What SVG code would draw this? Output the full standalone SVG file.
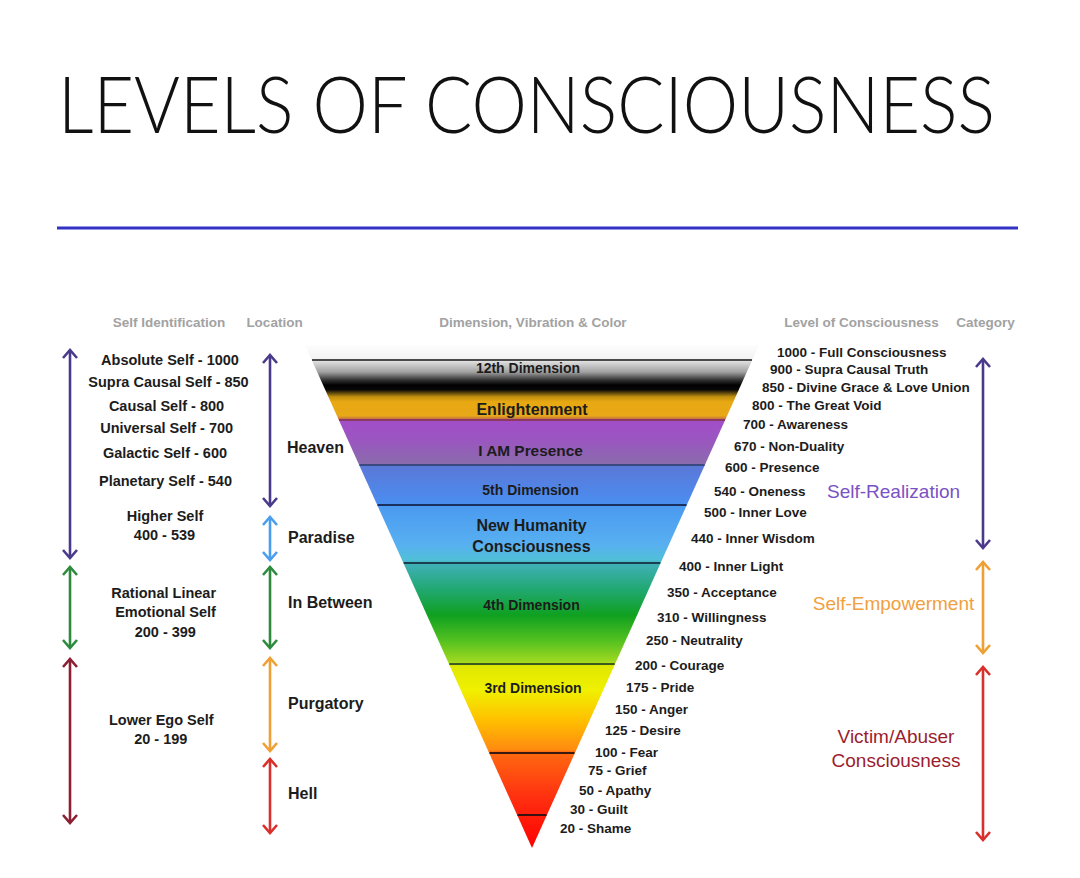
<svg xmlns="http://www.w3.org/2000/svg" width="1080" height="878" viewBox="0 0 1080 878">
<defs>
<style>
.t{font-family:"Liberation Sans",Arial,sans-serif;font-weight:bold;fill:#1c1c1c}
.hd{font-family:"Liberation Sans",Arial,sans-serif;font-weight:bold;fill:#a2a2a2;font-size:13.5px;text-anchor:middle}
.l{font-size:14.5px;text-anchor:middle}
.loc{font-size:16px}
.lv{font-size:13.5px}
.dim{font-size:14px;text-anchor:middle}
.big{font-size:16px;text-anchor:middle}
.cat{font-family:"Liberation Sans",Arial,sans-serif;font-size:19px;text-anchor:middle}
.arr{fill:none;stroke-width:2.6}
.div{stroke-width:2}
</style>
<linearGradient id="tri" gradientUnits="userSpaceOnUse" x1="0" y1="345" x2="0" y2="848">
<stop offset="0" stop-color="#fdfdfd"/>
<stop offset="0.028" stop-color="#f2f2f2"/>
<stop offset="0.034" stop-color="#dadada"/>
<stop offset="0.054" stop-color="#a0a0a0"/>
<stop offset="0.070" stop-color="#303030"/>
<stop offset="0.080" stop-color="#000000"/>
<stop offset="0.089" stop-color="#080808"/>
<stop offset="0.103" stop-color="#c09010"/>
<stop offset="0.113" stop-color="#e8a812"/>
<stop offset="0.141" stop-color="#e8a818"/>
<stop offset="0.148" stop-color="#c06848"/>
<stop offset="0.151" stop-color="#a24ec8"/>
<stop offset="0.189" stop-color="#9a56c0"/>
<stop offset="0.237" stop-color="#8a6cac"/>
<stop offset="0.241" stop-color="#5a78d8"/>
<stop offset="0.316" stop-color="#4a8ef0"/>
<stop offset="0.320" stop-color="#4a9af0"/>
<stop offset="0.398" stop-color="#58b0f0"/>
<stop offset="0.427" stop-color="#50c0d8"/>
<stop offset="0.435" stop-color="#40b0b8"/>
<stop offset="0.487" stop-color="#20a870"/>
<stop offset="0.537" stop-color="#10a020"/>
<stop offset="0.586" stop-color="#50c020"/>
<stop offset="0.630" stop-color="#a0d820"/>
<stop offset="0.638" stop-color="#e0e800"/>
<stop offset="0.686" stop-color="#f0f000"/>
<stop offset="0.746" stop-color="#ffc000"/>
<stop offset="0.805" stop-color="#ff8a10"/>
<stop offset="0.809" stop-color="#ff6a10"/>
<stop offset="0.899" stop-color="#ff3010"/>
<stop offset="1" stop-color="#ff0000"/>
</linearGradient>
<marker id="mPu" markerUnits="userSpaceOnUse" markerWidth="20" markerHeight="20" viewBox="-10 -10 20 20" refX="0" refY="0" orient="auto-start-reverse"><path d="M-8,-7 L0,0 L-8,7" fill="none" stroke="#4b3a8c" stroke-width="2.6"/></marker>
<marker id="mGr" markerUnits="userSpaceOnUse" markerWidth="20" markerHeight="20" viewBox="-10 -10 20 20" refX="0" refY="0" orient="auto-start-reverse"><path d="M-8,-7 L0,0 L-8,7" fill="none" stroke="#2e8b3e" stroke-width="2.6"/></marker>
<marker id="mDr" markerUnits="userSpaceOnUse" markerWidth="20" markerHeight="20" viewBox="-10 -10 20 20" refX="0" refY="0" orient="auto-start-reverse"><path d="M-8,-7 L0,0 L-8,7" fill="none" stroke="#8b2035" stroke-width="2.6"/></marker>
<marker id="mLb" markerUnits="userSpaceOnUse" markerWidth="20" markerHeight="20" viewBox="-10 -10 20 20" refX="0" refY="0" orient="auto-start-reverse"><path d="M-8,-7 L0,0 L-8,7" fill="none" stroke="#4a9ef0" stroke-width="2.6"/></marker>
<marker id="mOr" markerUnits="userSpaceOnUse" markerWidth="20" markerHeight="20" viewBox="-10 -10 20 20" refX="0" refY="0" orient="auto-start-reverse"><path d="M-8,-7 L0,0 L-8,7" fill="none" stroke="#eea034" stroke-width="2.6"/></marker>
<marker id="mRd" markerUnits="userSpaceOnUse" markerWidth="20" markerHeight="20" viewBox="-10 -10 20 20" refX="0" refY="0" orient="auto-start-reverse"><path d="M-8,-7 L0,0 L-8,7" fill="none" stroke="#d8302a" stroke-width="2.6"/></marker>
</defs>
<rect width="1080" height="878" fill="#ffffff"/>

<g id="title">
<text x="58" y="133" font-family="Lato, 'Open Sans', sans-serif" font-weight="300" font-size="78" fill="#111" textLength="937" lengthAdjust="spacingAndGlyphs">LEVELS OF CONSCIOUSNESS</text>
<line x1="57" y1="228" x2="1018" y2="228" stroke="#3232c4" stroke-width="3"/>
</g>

<g id="headers">
<text class="hd" x="169" y="327">Self Identification</text>
<text class="hd" x="274.5" y="327">Location</text>
<text class="hd" x="533" y="327">Dimension, Vibration &amp; Color</text>
<text class="hd" x="861.5" y="327">Level of Consciousness</text>
<text class="hd" x="985.5" y="327">Category</text>
</g>

<g id="triangle">
<polygon points="305,345 759,345 532,848" fill="url(#tri)"/>
<line class="div" x1="312" y1="360" x2="752" y2="360" stroke="#4a4a4a"/>
<line class="div" x1="339" y1="420" x2="725" y2="420" stroke="#8a3a60" stroke-width="1.5"/>
<line class="div" x1="359.4" y1="465" x2="704.6" y2="465" stroke="#3a4a80"/>
<line class="div" x1="377.5" y1="505" x2="686.5" y2="505" stroke="#1a3060"/>
<line class="div" x1="403.7" y1="563" x2="660.3" y2="563" stroke="#1a4050"/>
<line class="div" x1="449.3" y1="664" x2="614.7" y2="664" stroke="#3a5a20"/>
<line class="div" x1="489.5" y1="753" x2="574.5" y2="753" stroke="#3a1a10"/>
<line class="div" x1="517.5" y1="815" x2="546.5" y2="815" stroke="#3a1010"/>
</g>

<g id="dimension-labels">
<text class="t dim" x="528" y="373">12th Dimension</text>
<text class="t big" x="532" y="415">Enlightenment</text>
<text class="t" x="530.5" y="456" font-size="15.4" text-anchor="middle">I AM Presence</text>
<text class="t dim" x="530.5" y="495" font-size="13.8">5th Dimension</text>
<text class="t big" x="531.5" y="531">New Humanity</text>
<text class="t big" x="531.5" y="552">Consciousness</text>
<text class="t dim" x="531.5" y="610">4th Dimension</text>
<text class="t dim" x="533" y="693" font-size="13.8">3rd Dimension</text>
</g>

<g id="self-identification">
<text class="t l" x="170" y="365">Absolute Self - 1000</text>
<text class="t l" x="168.5" y="387">Supra Causal Self - 850</text>
<text class="t l" x="166.5" y="411">Causal Self - 800</text>
<text class="t l" x="166.7" y="433">Universal Self - 700</text>
<text class="t l" x="165" y="458">Galactic Self - 600</text>
<text class="t l" x="165.5" y="486">Planetary Self - 540</text>
<text class="t l" x="165" y="521">Higher Self</text>
<text class="t l" x="164.5" y="540">400 - 539</text>
<text class="t l" x="163.7" y="598">Rational Linear</text>
<text class="t l" x="165.5" y="617">Emotional Self</text>
<text class="t l" x="165.3" y="637">200 - 399</text>
<text class="t l" x="161.3" y="725">Lower Ego Self</text>
<text class="t l" x="160.8" y="744">20 - 199</text>
</g>

<g id="location">
<text class="t loc" x="287" y="453">Heaven</text>
<text class="t loc" x="288" y="543">Paradise</text>
<text class="t loc" x="288" y="608">In Between</text>
<text class="t loc" x="288" y="709">Purgatory</text>
<text class="t loc" x="288" y="799">Hell</text>
</g>

<g id="levels">
<text class="t lv" x="777" y="357">1000 - Full Consciousness</text>
<text class="t lv" x="770" y="374">900 - Supra Causal Truth</text>
<text class="t lv" x="762" y="392">850 - Divine Grace &amp; Love Union</text>
<text class="t lv" x="752" y="410">800 - The Great Void</text>
<text class="t lv" x="743" y="429">700 - Awareness</text>
<text class="t lv" x="734" y="451">670 - Non-Duality</text>
<text class="t lv" x="725" y="472">600 - Presence</text>
<text class="t lv" x="714" y="496">540 - Oneness</text>
<text class="t lv" x="704" y="517">500 - Inner Love</text>
<text class="t lv" x="691" y="543">440 - Inner Wisdom</text>
<text class="t lv" x="679" y="571">400 - Inner Light</text>
<text class="t lv" x="667" y="597">350 - Acceptance</text>
<text class="t lv" x="657" y="622">310 - Willingness</text>
<text class="t lv" x="646" y="645">250 - Neutrality</text>
<text class="t lv" x="635" y="670">200 - Courage</text>
<text class="t lv" x="626" y="692">175 - Pride</text>
<text class="t lv" x="615" y="714">150 - Anger</text>
<text class="t lv" x="605" y="735">125 - Desire</text>
<text class="t lv" x="595" y="757">100 - Fear</text>
<text class="t lv" x="588" y="775">75 - Grief</text>
<text class="t lv" x="579" y="795">50 - Apathy</text>
<text class="t lv" x="570" y="814">30 - Guilt</text>
<text class="t lv" x="560" y="833">20 - Shame</text>
</g>

<g id="category">
<text class="cat" x="893.5" y="498" fill="#7a52c4" font-size="19.5">Self-Realization</text>
<text class="cat" x="893.5" y="610" fill="#f0a040" font-size="18.5">Self-Empowerment</text>
<text class="cat" x="896" y="743" fill="#9b1c2e">Victim/Abuser</text>
<text class="cat" x="896" y="767" fill="#9b1c2e">Consciousness</text>
</g>

<g id="connectors">
<line class="arr" x1="70" y1="350" x2="70" y2="558" stroke="#4b3a8c" marker-start="url(#mPu)" marker-end="url(#mPu)"/>
<line class="arr" x1="70" y1="567" x2="70" y2="648" stroke="#2e8b3e" marker-start="url(#mGr)" marker-end="url(#mGr)"/>
<line class="arr" x1="70" y1="659" x2="70" y2="823" stroke="#8b2035" marker-start="url(#mDr)" marker-end="url(#mDr)"/>
<line class="arr" x1="270" y1="355" x2="270" y2="506" stroke="#4b3a8c" marker-start="url(#mPu)" marker-end="url(#mPu)"/>
<line class="arr" x1="270" y1="517" x2="270" y2="560" stroke="#4a9ef0" marker-start="url(#mLb)" marker-end="url(#mLb)"/>
<line class="arr" x1="270" y1="567" x2="270" y2="648" stroke="#2e8b3e" marker-start="url(#mGr)" marker-end="url(#mGr)"/>
<line class="arr" x1="270" y1="658" x2="270" y2="751" stroke="#eea034" marker-start="url(#mOr)" marker-end="url(#mOr)"/>
<line class="arr" x1="270" y1="759" x2="270" y2="833" stroke="#d8302a" marker-start="url(#mRd)" marker-end="url(#mRd)"/>
<line class="arr" x1="983" y1="359" x2="983" y2="548" stroke="#4b3a8c" marker-start="url(#mPu)" marker-end="url(#mPu)"/>
<line class="arr" x1="983" y1="562" x2="983" y2="653" stroke="#eea034" marker-start="url(#mOr)" marker-end="url(#mOr)"/>
<line class="arr" x1="983" y1="667" x2="983" y2="840" stroke="#d8302a" marker-start="url(#mRd)" marker-end="url(#mRd)"/>
</g>
</svg>
